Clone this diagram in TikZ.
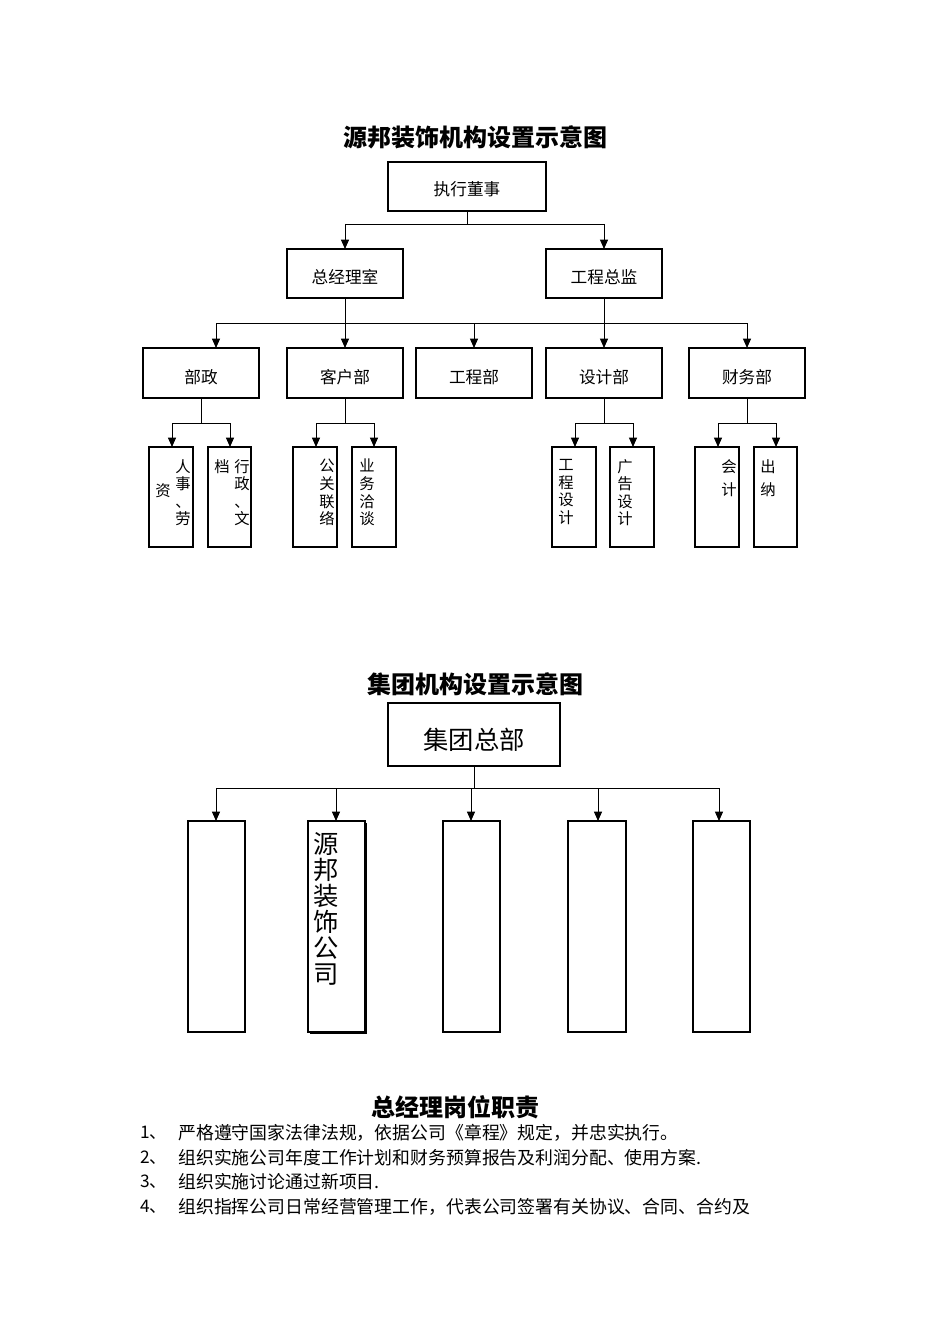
\documentclass[tikz,border=0pt]{standalone}
\usepackage{fontspec}
\setmainfont{Noto Sans CJK SC}
\usetikzlibrary{arrows.meta}
\begin{document}
\begin{tikzpicture}[x=0.75pt,y=-0.75pt,
  bx/.style={draw,line width=0.9pt},
  arr/.style={-{Triangle[length=7pt,width=6pt]},line width=0.7pt},
  ln/.style={line width=0.7pt},
  t16/.style={font=\fontsize{12.5}{14}\selectfont},
  vt/.style={font=\fontsize{11.5}{13.2}\selectfont,align=center,inner sep=0pt,anchor=north},
  ttl/.style={font=\fontsize{18}{20}\selectfont\bfseries}]
\useasboundingbox (0,0) rectangle (950,1344);
% title 1
\node[ttl] (t1) at (475,137) {源邦装饰机构设置示意图};
\draw[bx] (388,162) rectangle (546,211); \node[t16] (zd) at (467,189) {执行董事};
\draw[bx] (287,249) rectangle (403,298); \node[t16] (zj) at (345,277) {总经理室};
\draw[bx] (546,249) rectangle (662,298); \node[t16] (gc) at (604,277) {工程总监};
\coordinate (a1) at (467,211);
\draw[ln] (a1) -- (467,224) (345,224) -- (604,224);
\draw[arr] (345,224) -- (345,249); \draw[arr] (604,224) -- (604,249);
% row 3
\foreach \xa/\xb/\t/\n in {143/259/部政/r1,287/403/客户部/r2,416/532/工程部/r3,546/662/设计部/r4,689/805/财务部/r5}{
  \draw[bx] (\xa,348) rectangle (\xb,398);
  \node[t16] (\n) at ({(\xa+\xb)/2},377) {\t};}
\draw[ln] (216,323) -- (747,323) (345,298) -- (345,323) (604,298) -- (604,323);
\foreach \x in {216,345,474,604,747} \draw[arr] (\x,323) -- (\x,348);
% branches
\foreach \c in {201,345,604,747}{
  \draw[ln] (\c,398) -- (\c,423) (\c-29,423) -- (\c+29,423);
  \draw[arr] (\c-29,423) -- (\c-29,447);
  \draw[arr] (\c+29,423) -- (\c+29,447);}
\foreach \xa/\xb in {149/193,208/251,293/337,352/396,552/596,610/654,695/739,754/797}
  \draw[bx] (\xa,447) rectangle (\xb,547);
\node[vt] (s1a) at (183,459) {人\\事\\、\\劳};
\node[vt] (s1b) at (163,483) {资};
\node[vt] (s2a) at (242,459) {行\\政\\、\\文};
\node[vt] (s2b) at (222,459) {档};
\node[vt] (s3) at (327,459) {公\\关\\联\\络};
\node[vt] (s4) at (367,459) {业\\务\\洽\\谈};
\node[vt] (s5) at (566,459) {工\\程\\设\\计};
\node[vt] (s6) at (625,459) {广\\告\\设\\计};
\node[vt] (s7) at (729,459) {会\\[4pt]计};
\node[vt] (s8) at (768,459) {出\\[4pt]纳};
% title 2
\node[ttl] (t2) at (475,684) {集团机构设置示意图};
\draw[bx] (388,703) rectangle (560,766);
\node[font=\fontsize{19}{20}\selectfont] (jt) at (474,740) {集团总部};
\draw[ln] (474,766) -- (474,788) (216,788) -- (719,788);
\foreach \x in {216,336,471,598,719} \draw[arr] (\x,788) -- (\x,821);
\foreach \xa/\xb in {188/245,308/365,443/500,568/626,693/750}
  \draw[bx] (\xa,821) rectangle (\xb,1032);
\draw[line width=0.8pt] (366,823) -- (366,1033) -- (310,1033);
\node[vt,font=\fontsize{19}{19.5}\selectfont] (yb) at (326,832) {源\\邦\\装\\饰\\公\\司};
% title 3
\node[ttl] (t3) at (455,1107) {总经理岗位职责};
\foreach \y/\n/\t in {1133/1/严格遵守国家法律法规，依据公司《章程》规定，并忠实执行。,
  1158/2/组织实施公司年度工作计划和财务预算报告及利润分配、使用方案.,
  1182/3/组织实施讨论通过新项目.,
  1207/4/组织指挥公司日常经营管理工作，代表公司签署有关协议、合同、合约及}{
  \node[font=\fontsize{13}{14}\selectfont,anchor=west,inner sep=0pt] at (140,\y) {\n、};
  \node[font=\fontsize{13.4}{14}\selectfont,anchor=west,inner sep=0pt] at (178,\y) {\t};}
\end{tikzpicture}
\end{document}
